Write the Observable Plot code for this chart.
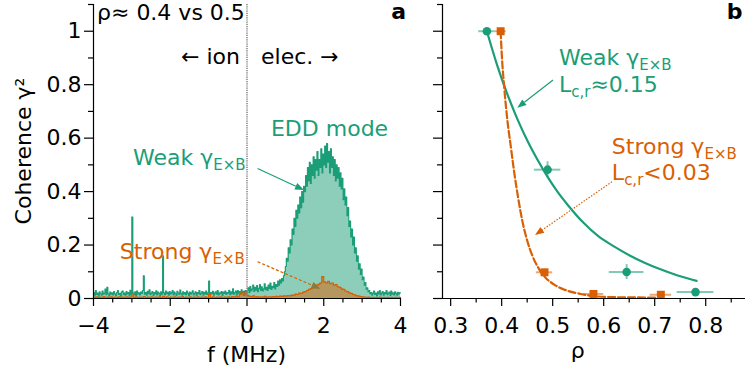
<!DOCTYPE html>
<html><head><meta charset="utf-8">
<script src="https://cdn.jsdelivr.net/npm/d3@7"></script>
<script src="https://cdn.jsdelivr.net/npm/@observablehq/plot@0.6"></script>
<style>
body{margin:0;background:#fff;}
#wrap{display:flex;width:745px;height:377px;overflow:hidden;background:#fff;}
#wrap svg{overflow:visible;flex:none;}
</style></head><body><div id="wrap"></div>
<script>
// ---------- data ----------
const GREEN = "#1b9e77", ORANGE = "#d95f02";
const FONT = "'DejaVu Sans', sans-serif";

// panel a: coherence spectra
// weak shear: bins of 0.025 MHz from -4 MHz
const weakStart = -4, weakBin = 0.025;
const weakSpec = [
0.022,0.012,0.03,0.015,0.02,0.009,0.025,0.018,0.012,0.028,0.016,0.02,0.035,0.014,0.042,0.018,0.01,0.024,0.016,0.021,
0.013,0.026,0.018,0.011,0.022,0.03,0.015,0.019,0.009,0.024,0.028,0.014,0.02,0.012,0.026,0.017,0.022,0.01,0.031,0.016,
0.305,0.02,0.014,0.025,0.011,0.028,0.017,0.021,0.013,0.024,0.019,0.03,0.085,0.016,0.022,0.012,0.027,0.018,0.033,0.014,
0.02,0.026,0.011,0.022,0.017,0.029,0.013,0.024,0.019,0.01,0.025,0.016,0.16,0.021,0.014,0.028,0.018,0.023,0.012,0.026,
0.017,0.021,0.03,0.013,0.024,0.018,0.011,0.027,0.02,0.015,0.032,0.019,0.012,0.025,0.017,0.022,0.014,0.028,0.02,0.011,
0.024,0.016,0.021,0.029,0.013,0.019,0.025,0.011,0.022,0.018,0.03,0.014,0.02,0.026,0.012,0.023,0.017,0.028,0.015,0.021,
0.065,0.014,0.022,0.018,0.027,0.012,0.02,0.025,0.016,0.03,0.013,0.021,0.018,0.026,0.011,0.024,0.019,0.028,0.015,0.022,
0.02,0.031,0.014,0.025,0.018,0.036,0.016,0.022,0.028,0.013,0.03,0.02,0.026,0.017,0.033,0.021,0.027,0.015,0.03,0.024,
0.03,0.04,0.022,0.045,0.028,0.035,0.05,0.026,0.042,0.031,0.048,0.025,0.038,0.052,0.03,0.044,0.028,0.036,0.055,0.033,
0.042,0.03,0.05,0.038,0.058,0.034,0.046,0.04,0.06,0.036,0.052,0.045,0.065,0.05,0.07,0.058,0.075,0.066,0.085,0.1,
0.12,0.15,0.14,0.19,0.17,0.22,0.2,0.26,0.24,0.3,0.27,0.33,0.3,0.35,0.32,0.38,0.34,0.4,0.36,0.42,
0.4,0.46,0.42,0.49,0.44,0.51,0.43,0.5,0.46,0.53,0.45,0.52,0.48,0.55,0.46,0.52,0.49,0.56,0.47,0.54,
0.5,0.57,0.49,0.58,0.51,0.55,0.47,0.56,0.49,0.53,0.46,0.52,0.44,0.5,0.45,0.49,0.42,0.47,0.41,0.45,
0.37,0.41,0.35,0.38,0.31,0.34,0.27,0.29,0.23,0.26,0.2,0.23,0.17,0.19,0.14,0.16,0.11,0.13,0.09,0.11,
0.07,0.08,0.05,0.06,0.035,0.04,0.025,0.03,0.018,0.022,0.012,0.02,0.028,0.015,0.02,0.01,0.025,0.017,0.03,0.013,
0.02,0.026,0.012,0.022,0.018,0.03,0.014,0.02,0.024,0.011,0.028,0.016,0.021,0.013,0.025,0.019,0.012,0.023,0.017,0.021
];
// strong shear: bins of 0.05 MHz from -4 MHz
const strongStart = -4, strongBin = 0.05;
const strongSpec = [
0.004,0.006,0.003,0.005,0.004,0.007,0.003,0.005,0.004,0.006,0.003,0.005,0.004,0.006,0.003,0.005,0.004,0.006,0.003,0.005,
0.018,0.004,0.006,0.003,0.005,0.004,0.007,0.003,0.005,0.004,0.006,0.003,0.005,0.004,0.006,0.003,0.008,0.004,0.006,0.003,
0.005,0.004,0.006,0.003,0.005,0.004,0.007,0.003,0.005,0.004,0.006,0.003,0.005,0.004,0.006,0.003,0.005,0.004,0.006,0.003,
0.016,0.004,0.006,0.003,0.005,0.004,0.006,0.003,0.005,0.004,0.006,0.004,0.007,0.005,0.008,0.006,0.015,0.025,0.012,0.022,
0.012,0.008,0.006,0.01,0.005,0.007,0.004,0.006,0.005,0.008,0.004,0.006,0.005,0.007,0.006,0.008,0.007,0.009,0.008,0.01,
0.009,0.011,0.01,0.013,0.012,0.016,0.015,0.02,0.019,0.024,0.026,0.03,0.034,0.037,0.042,0.045,0.05,0.053,0.058,0.082,
0.062,0.058,0.064,0.056,0.058,0.05,0.052,0.044,0.042,0.036,0.034,0.028,0.026,0.021,0.019,0.015,0.013,0.01,0.009,0.007,
0.006,0.005,0.004,0.005,0.003,0.004,0.003,0.004,0.003,0.005,0.003,0.004,0.003,0.004,0.003,0.004,0.003,0.004,0.003,0.004
];

// panel b: measured coherence vs rho
const weakRho    = [0.371, 0.490, 0.645, 0.780];
const weakCoh    = [1.000, 0.482, 0.099, 0.024];
const weakRhoErr = [0.016, 0.026, 0.034, 0.036];
const weakCohErr = [0, 0.03, 0.028, 0];
const strongRho    = [0.398, 0.484, 0.580, 0.712];
const strongCoh    = [1.000, 0.098, 0.017, 0.014];
const strongRhoErr = [0.011, 0.016, 0.020, 0.021];

// fitted curves
const weakFitRho = [0.371,0.39,0.41,0.43,0.45,0.47,0.49,0.51,0.53,0.56,0.59,0.62,0.65,0.68,0.71,0.745,0.782];
const weakFitCoh = [1.0,0.88,0.77,0.675,0.592,0.52,0.455,0.398,0.349,0.284,0.232,0.195,0.162,0.134,0.11,0.086,0.066];
const strongFitRho = [0.398,0.40,0.405,0.411,0.418,0.424,0.432,0.44,0.45,0.46,0.473,0.486,0.503,0.522,0.555,0.58,0.62,0.66,0.712];
const strongFitCoh = [1.0,0.92,0.79,0.67,0.567,0.48,0.38,0.295,0.217,0.161,0.111,0.078,0.052,0.034,0.017,0.009,0.005,0.004,0.003];

// ticks
const aMajorX = [-4, -2, 0, 2, 4];
const aMinorX = [-3.5, -3, -2.5, -1.5, -1, -0.5, 0.5, 1, 1.5, 2.5, 3, 3.5];
const yMajor = [0, 0.2, 0.4, 0.6, 0.8, 1.0];
const yMinor = [0.1, 0.3, 0.5, 0.7, 0.9, 1.1];
const bMajorX = [0.3, 0.4, 0.5, 0.6, 0.7, 0.8];
const bMinorX = [0.35, 0.45, 0.55, 0.65, 0.75, 0.85];

// ---------- tables ----------
function stepTable(values, start, bin) {
  const rows = values.map((v, i) => ({f: start + i * bin, v}));
  rows.push({f: start + values.length * bin, v: values[values.length - 1]});
  return rows;
}
const weakRows = stepTable(weakSpec, weakStart, weakBin);
const strongRows = stepTable(strongSpec, strongStart, strongBin);
const weakPts = weakRho.map((r, i) => ({rho: r, coh: weakCoh[i], ex: weakRhoErr[i], ey: weakCohErr[i]}));
const strongPts = strongRho.map((r, i) => ({rho: r, coh: strongCoh[i], ex: strongRhoErr[i]}));
const weakFit = weakFitRho.map((r, i) => ({rho: r, coh: weakFitCoh[i]}));
const strongFit = strongFitRho.map((r, i) => ({rho: r, coh: strongFitCoh[i]}));

const fmtSigned = d => d < 0 ? "\u2212" + Math.abs(d) : String(d);
const fmtY = d => d === 0 ? "0" : d === 1 ? "1" : d.toFixed(1);

function axes(xMajor, xMinor, xFmt, yFmt) {
  return [
    Plot.axisX({ticks: xMajor, tickSize: 8, tickPadding: 11, tickFormat: xFmt, fontSize: 22, label: null, strokeWidth: 1.2}),
    Plot.axisX({ticks: xMinor, tickSize: 4.5, tickFormat: () => "", label: null, strokeWidth: 1.2}),
    Plot.axisY({ticks: yMajor, tickSize: 9, tickPadding: 3, tickFormat: yFmt, fontSize: 22, label: null, strokeWidth: 1.2}),
    Plot.axisY({ticks: yMinor, tickSize: 5, tickFormat: () => "", label: null, strokeWidth: 1.2})
  ];
}

function addText(chart, a) {
  const sx = chart.scale("x"), sy = chart.scale("y");
  const t = d3.select(chart).append("text")
    .attr("x", sx.apply(a.x)).attr("y", sy.apply(a.y))
    .attr("fill", a.color || "black").attr("font-family", FONT)
    .attr("font-size", a.size || 22).attr("font-weight", a.weight || "normal")
    .attr("text-anchor", a.anchor || "start");
  let shift = 0;
  for (const [s, sub] of a.parts) {
    const target = sub ? (a.subShift || 5) : 0;
    t.append("tspan").text(s).attr("dy", target - shift)
      .attr("font-size", sub ? (a.subSize || 15) : (a.size || 22));
    shift = target;
  }
}
function addArrow(chart, a) {
  const sx = chart.scale("x"), sy = chart.scale("y");
  const x1 = sx.apply(a.x1), y1 = sy.apply(a.y1), x2 = sx.apply(a.x2), y2 = sy.apply(a.y2);
  const ang = Math.atan2(y2 - y1, x2 - x1), L = a.head || 9, W = a.headW || 3.5;
  const bx = x2 - L * Math.cos(ang), by = y2 - L * Math.sin(ang);
  const g = d3.select(chart).append("g");
  g.append("line").attr("x1", x1).attr("y1", y1).attr("x2", bx).attr("y2", by)
    .attr("stroke", a.color).attr("stroke-width", a.width || 1.3)
    .attr("stroke-dasharray", a.dash || null);
  g.append("path")
    .attr("d", `M${x2},${y2}L${bx - W * Math.sin(ang)},${by + W * Math.cos(ang)}L${bx + W * Math.sin(ang)},${by - W * Math.cos(ang)}Z`)
    .attr("fill", a.headColor || a.color);
}
function addLabel(chart, x, y, text, rotate) {
  d3.select(chart).append("text").attr("font-family", FONT).attr("font-size", 22)
    .attr("text-anchor", "middle").attr("fill", "black")
    .attr("transform", `translate(${x},${y})${rotate ? " rotate(-90)" : ""}`).text(text);
}

// ---------- panel a ----------
const chartA = Plot.plot({
  width: 420, height: 377, marginLeft: 93, marginRight: 20, marginTop: 4, marginBottom: 79,
  x: {domain: [-4, 4]}, y: {domain: [0, 1.1]},
  style: {fontFamily: FONT, fontSize: "22px", background: "white", color: "black", overflow: "visible"},
  marks: [
    Plot.areaY(weakRows, {x: "f", y: "v", curve: "step-after", fill: GREEN, fillOpacity: 0.5}),
    Plot.lineY(weakRows, {x: "f", y: "v", curve: "step-after", stroke: GREEN, strokeWidth: 1.1}),
    Plot.areaY(strongRows, {x: "f", y: "v", curve: "step-after", fill: ORANGE, fillOpacity: 0.5}),
    Plot.lineY(strongRows, {x: "f", y: "v", curve: "step-after", stroke: ORANGE, strokeWidth: 1.2}),
    Plot.ruleX([0], {stroke: "#888", strokeWidth: 1.6, strokeDasharray: "1.2,1"}),
    Plot.ruleY([0], {strokeWidth: 1.2}),
    Plot.ruleX([-4], {strokeWidth: 1.2}),
    ...axes(aMajorX, aMinorX, fmtSigned, fmtY)
  ]
});

// ---------- panel b ----------
const bDomain = [0.284, 0.878];
const chartB = Plot.plot({
  width: 325, height: 377, marginLeft: 22, marginRight: 0, marginTop: 4, marginBottom: 79,
  x: {domain: bDomain}, y: {domain: [0, 1.1]},
  style: {fontFamily: FONT, fontSize: "22px", background: "white", color: "black", overflow: "visible"},
  marks: [
    Plot.ruleY(weakPts, {y: "coh", x1: d => d.rho - d.ex, x2: d => d.rho + d.ex, stroke: GREEN, strokeOpacity: 0.55, strokeWidth: 2}),
    Plot.ruleX(weakPts.filter(d => d.ey > 0), {x: "rho", y1: d => d.coh - d.ey, y2: d => d.coh + d.ey, stroke: GREEN, strokeOpacity: 0.55, strokeWidth: 2}),
    Plot.ruleY(strongPts, {y: "coh", x1: d => d.rho - d.ex, x2: d => d.rho + d.ex, stroke: ORANGE, strokeOpacity: 0.55, strokeWidth: 2}),
    Plot.line(weakFit, {x: "rho", y: "coh", curve: "monotone-x", stroke: GREEN, strokeWidth: 2.2}),
    Plot.line(strongFit, {x: "rho", y: "coh", curve: "monotone-x", stroke: ORANGE, strokeWidth: 2.2, strokeDasharray: "7,3"}),
    Plot.dot(weakPts, {x: "rho", y: "coh", r: 4.3, fill: GREEN}),
    Plot.dot(strongPts, {x: "rho", y: "coh", r: 4.5, symbol: "square", fill: ORANGE}),
    Plot.ruleY([0], {strokeWidth: 1.2}),
    Plot.ruleX([bDomain[0]], {strokeWidth: 1.2}),
    ...axes(bMajorX, bMinorX, d => d.toFixed(1), () => "")
  ]
});

const wrap = document.getElementById("wrap");
wrap.append(chartA, chartB);

// ---------- annotations panel a ----------
addText(chartA, {x: -3.896, y: 1.040, parts: [["ρ≈ 0.4 vs 0.5", false]]});
addText(chartA, {x: 4.156, y: 1.044, anchor: "end", weight: "bold", parts: [["a", false]]});
addText(chartA, {x: -0.17, y: 0.877, anchor: "end", parts: [["← ion", false]]});
addText(chartA, {x: 0.378, y: 0.877, parts: [["elec. →", false]]});
addText(chartA, {x: 0.638, y: 0.6077, color: GREEN, parts: [["EDD mode", false]]});
addText(chartA, {x: -2.958, y: 0.4976, color: GREEN, parts: [["Weak γ", false], ["E×B", true]]});
addText(chartA, {x: -3.30, y: 0.146, color: ORANGE, parts: [["Strong γ", false], ["E×B", true]]});
addArrow(chartA, {x1: 0.289, y1: 0.4845, x2: 1.498, y2: 0.404, color: GREEN, width: 1.2});
addArrow(chartA, {x1: 0.289, y1: 0.1358, x2: 1.923, y2: 0.0344, color: ORANGE, width: 1.2, dash: "3,2", headColor: "#8a7a3c"});
{
  const sx = chartA.scale("x");
  addLabel(chartA, sx.apply(0), 362, "f (MHz)");
  addLabel(chartA, 31, 151, "Coherence γ²", true);
}

// ---------- annotations panel b ----------
addText(chartB, {x: 0.5133, y: 0.872, color: GREEN, parts: [["Weak γ", false], ["E×B", true]]});
addText(chartB, {x: 0.5133, y: 0.7696, color: GREEN, parts: [["L", false], ["c,r", true], ["≈0.15", false]]});
addText(chartB, {x: 0.617, y: 0.5376, color: ORANGE, parts: [["Strong γ", false], ["E×B", true]]});
addText(chartB, {x: 0.617, y: 0.4415, color: ORANGE, parts: [["L", false], ["c,r", true], ["<0.03", false]]});
addText(chartB, {x: 0.842, y: 1.044, weight: "bold", parts: [["b", false]]});
addArrow(chartB, {x1: 0.5016, y1: 0.8157, x2: 0.4316, y2: 0.712, color: GREEN, width: 1.2});
addArrow(chartB, {x1: 0.6173, y1: 0.435, x2: 0.4663, y2: 0.2357, color: ORANGE, width: 1.2, dash: "1.5,1.5"});
{
  const sx = chartB.scale("x");
  addLabel(chartB, sx.apply(0.55), 358, "ρ");
}
</script></body></html>
